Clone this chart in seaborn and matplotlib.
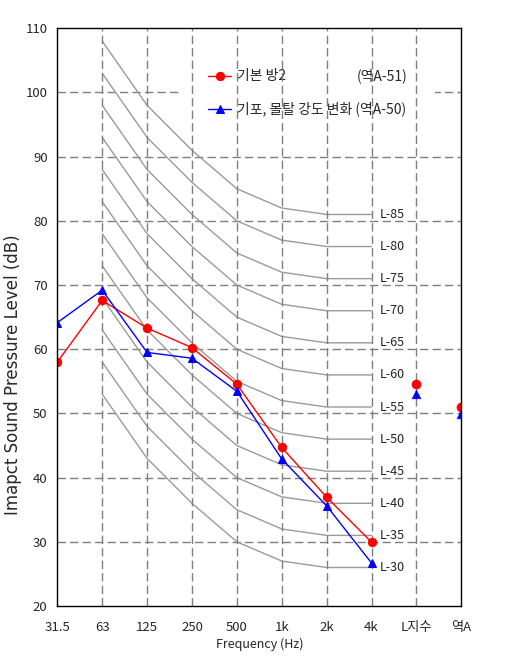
import matplotlib

matplotlib.use("Agg")
import matplotlib.pyplot as plt
import seaborn as sns
import pandas as pd

# Band / single-number categories on the x axis
freq_labels = ["31.5", "63", "125", "250", "500", "1k", "2k", "4k", "L지수", "역A"]

# Measured impact sound pressure levels (dB), 31.5 Hz .. 4 kHz
base_room = [58.0, 67.6, 63.3, 60.25, 54.55, 44.7, 36.95, 29.95]
foam_mortar = [64.15, 69.2, 59.5, 58.6, 53.45, 42.9, 35.6, 26.7]
# Single-number ratings (L지수, 역A)
base_room_single = [54.65, 51.0]
foam_mortar_single = [53.0, 49.9]

# L-curves: rating level and offsets at 63 Hz .. 4 kHz relative to 500 Hz
l_levels = [30, 35, 40, 45, 50, 55, 60, 65, 70, 75, 80, 85]
l_offsets = [23, 13, 6, 0, -3, -4, -4]

sns.set_style("white")
plt.rcParams["font.family"] = ["Noto Sans CJK KR", "DejaVu Sans"]

fig = plt.figure(figsize=(5.12, 6.64), dpi=100)
ax = fig.add_axes([57.3 / 512, 1 - 606 / 664, 404 / 512, 577.7 / 664])

# Reference L-curves
rows = []
for lv in l_levels:
    for i, off in enumerate(l_offsets):
        rows.append({"x": i + 1, "level": lv, "spl": lv + off})
df_l = pd.DataFrame(rows)
sns.lineplot(
    data=df_l, x="x", y="spl", units="level", estimator=None,
    color="#9a9a9a", linewidth=1, ax=ax, zorder=3,
)
for lv in l_levels:
    ax.text(7.18, lv + l_offsets[-1], f"L-{lv}", va="center", ha="left",
            fontsize=9, color="#222222", zorder=4)

# Measured data
band_x = list(range(len(base_room)))
single_x = [8, 9]
sns.lineplot(x=band_x, y=base_room, color="red", marker="o", markersize=6,
             markeredgecolor="red", linewidth=1, ax=ax, zorder=8)
sns.lineplot(x=band_x, y=foam_mortar, color="blue", marker="^", markersize=6,
             markeredgecolor="blue", linewidth=1, ax=ax, zorder=8)
red_line, blue_line = ax.lines[-2], ax.lines[-1]
sns.scatterplot(x=single_x, y=base_room_single, color="red", marker="o",
                s=42, edgecolor="red", ax=ax, zorder=8)
sns.scatterplot(x=single_x, y=foam_mortar_single, color="blue", marker="^",
                s=38, edgecolor="blue", ax=ax, zorder=8)

# Axes, grid
ax.set_xlim(0, 9)
ax.set_ylim(20, 110)
ax.set_xticks(range(len(freq_labels)))
ax.set_xticklabels(freq_labels)
ax.set_yticks(range(20, 111, 10))
ax.tick_params(axis="x", length=0, pad=11, labelsize=9.5)
ax.tick_params(axis="y", length=0, pad=7, labelsize=9.5)
for yv in range(30, 110, 10):
    ax.axhline(yv, color="#7f7f7f", linewidth=1, linestyle=(0, (6, 3)), zorder=1)
for xv in range(1, 9):
    ax.axvline(xv, color="#7f7f7f", linewidth=1, linestyle=(0, (6, 3)), zorder=6)
for sp in ax.spines.values():
    sp.set_color("black")
    sp.set_linewidth(1)
    sp.set_zorder(9)

ax.set_xlabel("Frequency (Hz)", fontsize=9)
ax.set_ylabel("Imapct Sound Pressure Level (dB)", fontsize=12, family="DejaVu Sans")
ax.xaxis.set_label_coords(0.5, -0.055)
ax.yaxis.set_label_coords(-0.088, 0.40)

leg = ax.legend(
    [red_line, blue_line], ["기본 방2", "기포, 몰탈 강도 변화 (역A-50)"],
    loc="upper left", bbox_to_anchor=(173 / 512, 1 - 34 / 664),
    bbox_transform=fig.transFigure, fontsize=10, frameon=True,
    facecolor="white", edgecolor="none", framealpha=1, fancybox=False,
    handlelength=1.65, handletextpad=0.42, labelspacing=1.32, borderpad=2.05,
)
leg.set_zorder(2.5)
fig.text(407 / 512, 1 - 76 / 664, "(역A-51)", ha="right", va="center",
         fontsize=10, zorder=10)

fig.savefig("out.png", dpi=100, facecolor="white")
plt.close()
